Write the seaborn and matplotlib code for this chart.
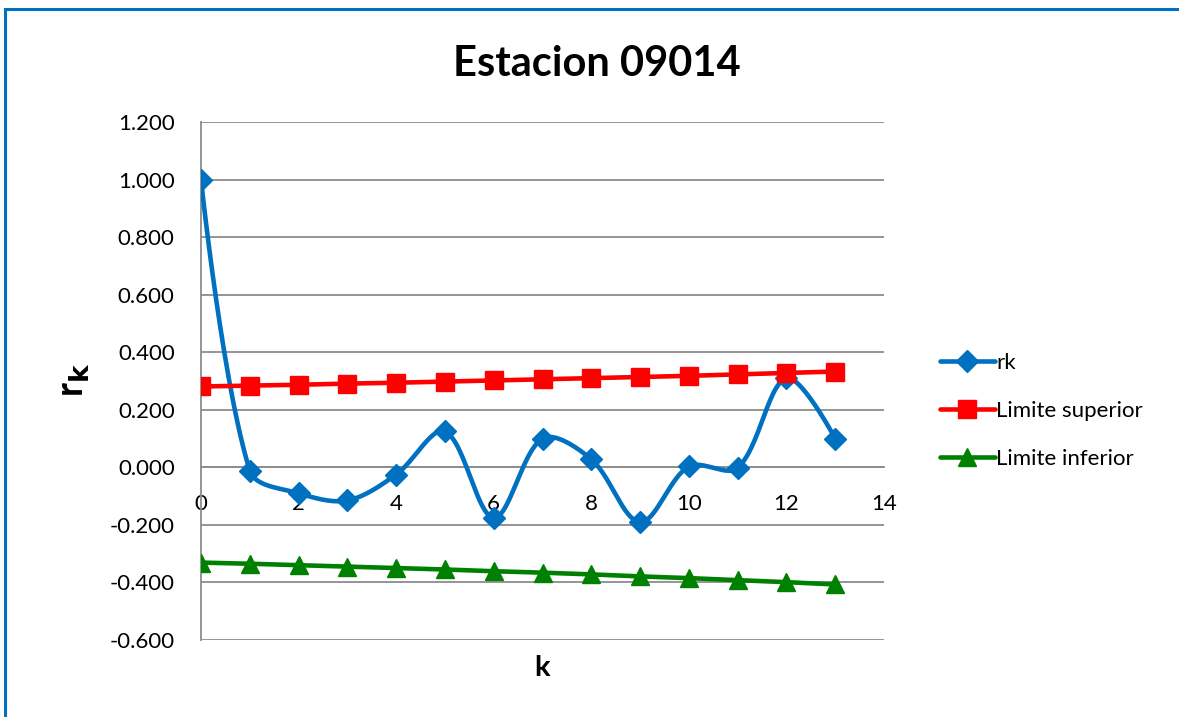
import numpy as np
import pandas as pd
import seaborn as sns
import matplotlib.pyplot as plt
from matplotlib.patches import Rectangle
from matplotlib.lines import Line2D

# datos
k = list(range(14))
rk = [1.000, -0.012, -0.090, -0.115, -0.025, 0.125, -0.175,
      0.100, 0.028, -0.190, 0.003, -0.002, 0.310, 0.100]
lim_sup = [0.281, 0.284, 0.287, 0.291, 0.294, 0.298, 0.302,
           0.306, 0.310, 0.314, 0.318, 0.323, 0.328, 0.333]
lim_inf = [-0.331, -0.335, -0.340, -0.345, -0.350, -0.355, -0.361,
           -0.366, -0.372, -0.379, -0.385, -0.392, -0.399, -0.407]
y_ticks = [-0.6, -0.4, -0.2, 0.0, 0.2, 0.4, 0.6, 0.8, 1.0, 1.2]
x_ticks = [0, 2, 4, 6, 8, 10, 12, 14]

sns.set_style("white")
plt.rcParams['font.family'] = ['Lato', 'DejaVu Sans']
plt.rcParams['text.color'] = 'black'

df = pd.DataFrame({"k": k, "rk": rk, "sup": lim_sup, "inf": lim_inf})


def suave(x, y, sx=48.8, sy=287.8, n=30):
    # trazo suavizado tipo Excel (bezier con tangentes por longitud de cuerda)
    P = np.column_stack([np.asarray(x, float) * sx, np.asarray(y, float) * sy])
    pts = []
    t = np.linspace(0, 1, n)[:, None]
    for i in range(len(P) - 1):
        p1, p2 = P[i], P[i + 1]
        p0 = P[i - 1] if i > 0 else p1
        p3 = P[i + 2] if i + 2 < len(P) else p2
        d01 = np.linalg.norm(p1 - p0)
        d12 = np.linalg.norm(p2 - p1)
        d23 = np.linalg.norm(p3 - p2)
        c1 = p1 + (p2 - p0) * (d12 / (d01 + d12)) / 3 if d01 > 0 else p1
        c2 = p2 - (p3 - p1) * (d12 / (d12 + d23)) / 3 if d23 > 0 else p2
        b = (1 - t) ** 3 * p1 + 3 * (1 - t) ** 2 * t * c1 + 3 * (1 - t) * t ** 2 * c2 + t ** 3 * p2
        pts.append(b)
    B = np.vstack(pts)
    return B[:, 0] / sx, B[:, 1] / sy


fig = plt.figure(figsize=(11.79, 7.17), dpi=100)
ax = fig.add_axes([0.1705, 0.1074, 0.5793, 0.7224])

azul = "#0070C0"
rojo = "#FF0000"
verde = "#008000"

cx, cy = suave(df["k"], df["rk"])
sns.lineplot(x=cx, y=cy, ax=ax, color=azul, lw=3.3, sort=False, zorder=3)
sns.lineplot(data=df, x="k", y="sup", ax=ax, color=rojo, lw=3.3, zorder=4)
sns.lineplot(data=df, x="k", y="inf", ax=ax, color=verde, lw=3.3, zorder=4)
ax.plot(df["k"], df["rk"], ls="none", marker="D", ms=11.5, color=azul, zorder=5)
ax.plot(df["k"], df["sup"], ls="none", marker="s", ms=13, color=rojo, zorder=5)
ax.plot(df["k"], df["inf"], ls="none", marker="^", ms=13, color=verde, zorder=5)

ax.set_xlim(0, 14)
ax.set_ylim(-0.6, 1.2)
ax.set_yticks(y_ticks)
ax.set_yticklabels([f"{v:.3f}" for v in y_ticks])
ax.set_xticks(x_ticks)
ax.set_xticklabels([str(v) for v in x_ticks])
ax.yaxis.grid(True, color="#8c8c8c", lw=1.3)
ax.xaxis.grid(False)
for s in ["top", "right"]:
    ax.spines[s].set_visible(False)
ax.spines["left"].set_color("#8c8c8c")
ax.spines["left"].set_linewidth(1.3)
ax.spines["bottom"].set_position(("data", 0))
ax.spines["bottom"].set_color("#8c8c8c")
ax.spines["bottom"].set_linewidth(1.3)
ax.tick_params(axis="y", direction="out", length=6, width=1.3, color="#8c8c8c",
               labelsize=16, pad=13, labelcolor="black")
ax.tick_params(axis="x", direction="out", length=4, width=1.3, color="#8c8c8c",
               labelsize=16, pad=15, labelcolor="black")

ax.set_xlabel("")
ax.set_ylabel("")
fig.text(0.506, 0.911, "Estacion 09014", fontsize=30, fontweight="bold",
         ha="center", va="center")
fig.text(0.46, 0.068, "k", fontsize=21, fontweight="bold", ha="center", va="center")
fig.text(0.064, 0.47, r"r$_\mathbf{k}$", fontsize=27, fontweight="bold",
         rotation=90, ha="center", va="center")

handles = [
    Line2D([], [], color=azul, lw=3.3, marker="D", ms=11.5),
    Line2D([], [], color=rojo, lw=3.3, marker="s", ms=13),
    Line2D([], [], color=verde, lw=3.3, marker="^", ms=13),
]
fig.legend(handles, ["rk", "Limite superior", "Limite inferior"],
           loc="center left", bbox_to_anchor=(0.780, 0.427), frameon=False,
           fontsize=16, handlelength=2.5, handletextpad=0.05, labelspacing=1.25)

fig.patches.append(Rectangle((0.004, -0.1), 1.2, 1.087, transform=fig.transFigure,
                             fill=False, edgecolor=azul, lw=2.2))

fig.savefig("out.png", dpi=100)
